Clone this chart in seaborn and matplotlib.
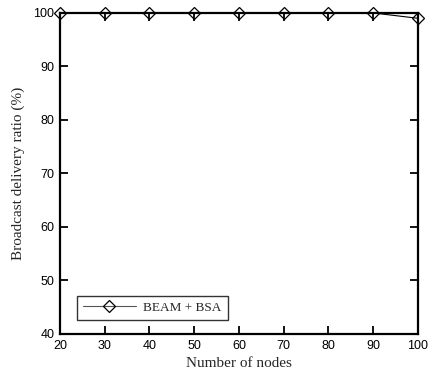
import pandas as pd
import matplotlib
matplotlib.use("Agg")
import matplotlib.pyplot as plt
import seaborn as sns

nodes = [20, 30, 40, 50, 60, 70, 80, 90, 100]
ratio = [100, 100, 100, 100, 100, 100, 100, 100, 99]
series = "BEAM + BSA"

df = pd.DataFrame({"nodes": nodes, "ratio": ratio, "scheme": series})

sns.set_style("ticks")
plt.rcParams["font.family"] = ["Liberation Sans", "DejaVu Sans"]

fig = plt.figure(figsize=(4.3, 3.81), dpi=100)
ax = fig.add_axes([0.1395, 0.1234, 0.8325, 0.8426])

sns.lineplot(data=df, x="nodes", y="ratio", hue="scheme", palette=["black"],
             marker="D", markersize=6.3, markerfacecolor="none",
             markeredgecolor="black", markeredgewidth=0.9,
             linewidth=0.8, ax=ax, clip_on=False, zorder=5)

ax.set_xlim(20, 100)
ax.set_ylim(40, 100)
ax.set_xticks(range(20, 101, 10))
ax.set_yticks(range(40, 101, 10))
ax.tick_params(direction="in", length=6, width=1.3, labelsize=9,
               top=True, right=True, pad=4, colors="black")
for s in ax.spines.values():
    s.set_linewidth(1.6)
    s.set_color("black")

ax.set_xlabel("Number of nodes", family="Liberation Serif", fontsize=11, labelpad=4)
ax.set_ylabel("Broadcast delivery ratio (%)", family="Liberation Serif", fontsize=11, labelpad=6)

# legend box, lower left like the gnuplot original
leg = ax.legend(loc="lower left", bbox_to_anchor=(0.047, 0.044), handlelength=4.0,
                prop={"family": "Liberation Serif", "size": 9.5}, frameon=True,
                fancybox=False, borderpad=0.45, borderaxespad=0, handletextpad=0.6)
leg.get_frame().set_edgecolor("black")
leg.get_frame().set_linewidth(1.0)
for h in leg.get_lines():
    h.set_color("#555555")
    h.set_markeredgecolor("black")

fig.savefig("out.png", dpi=100)
